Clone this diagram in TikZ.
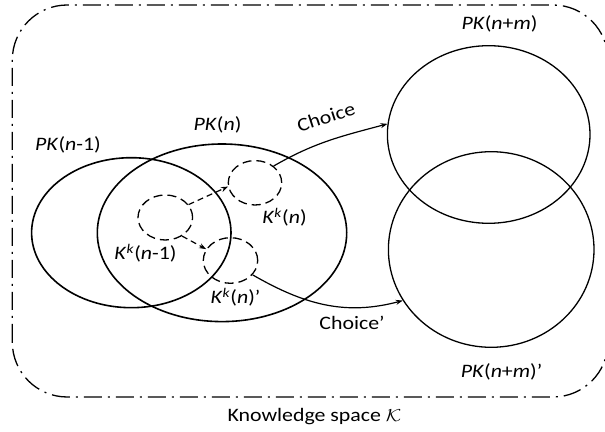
\documentclass[tikz,border=0pt]{standalone}
\usepackage{fontspec}
\setmainfont{Carlito}
\usetikzlibrary{shapes.geometric,arrows.meta}
\newcommand{\widen}[1]{\scalebox{1.15}[1]{#1}}

\begin{document}
\begin{tikzpicture}[x=1pt, y=1pt, >={Stealth[length=7pt,width=5pt]},
  set/.style={draw, ellipse, inner sep=0pt, line width=1.6pt},
  subset/.style={draw, ellipse, inner sep=0pt, line width=1.3pt, dash pattern=on 9pt off 5pt},
  lbl/.style={font=\fontsize{19}{22}\selectfont, inner sep=0pt}]
  \useasboundingbox (0,0) rectangle (605,431);
  \draw[line width=1.3pt, rounded corners=55pt, dash pattern=on 18pt off 6pt on 2pt off 6pt]
    (12.3,34) rectangle (608,426);
  \node[set, minimum width=199.4pt, minimum height=150pt] (pkA) at (131.3,198.3) {};
  \node[set, minimum width=249.4pt, minimum height=177.6pt] (pkB) at (222,198.2) {};
  \node[set, line width=1.3pt, minimum width=202.6pt, minimum height=177.6pt] (pkC) at (488.7,296.5) {};
  \node[set, line width=1.3pt, minimum width=205.6pt, minimum height=195.6pt] (pkD) at (491.2,181.5) {};
  \node[subset, minimum width=54.6pt, minimum height=45pt] (kA) at (165.3,213.5) {};
  \node[subset, minimum width=53.4pt, minimum height=44.4pt] (kB) at (255,248.2) {};
  \node[subset, minimum width=54.4pt, minimum height=45.6pt] (kC) at (230.5,170.5) {};
  \node[lbl] (tA) at (68,286) {\widen{\textit{PK}(\textit{n}-1)}};
  \node[lbl] (tB) at (217.5,306) {\widen{\textit{PK}(\textit{n})}};
  \node[lbl] (tC) at (499.5,407) {\widen{\textit{PK}(\textit{n}+\textit{m})}};
  \node[lbl] (tD) at (501.5,59) {\widen{\textit{PK}(\textit{n}+\textit{m})’}};
  \node[lbl] (tkA) at (145.5,177.5) {\widen{\textit{K}\textsuperscript{\textit{k}}(\textit{n}-1)}};
  \node[lbl] (tkB) at (284.5,213.5) {\widen{\textit{K}\textsuperscript{\textit{k}}(\textit{n})}};
  \node[lbl] (tkC) at (235.5,134) {\widen{\textit{K}\textsuperscript{\textit{k}}(\textit{n})’}};
  \node[lbl, rotate=18] (ch) at (326,314) {\widen{Choice}};
  \node[lbl] (chp) at (352,108.5) {\widen{Choice’}};
  \node[lbl] (space) at (314.5,14.5) {\widen{Knowledge space $\mathcal{K}$}};
  \draw[->, line width=1.2pt, dash pattern=on 6pt off 4pt] (kA.29) -- (kB.188);
  \draw[->, line width=1.2pt, dash pattern=on 6pt off 4pt] (kA.-48) -- (kC.155);
  \draw[->, line width=1.2pt] (kB.42) to[out=30, in=195] (pkC.174);
  \draw[->, line width=1.2pt] (kC.-33) to[out=-30, in=195] (pkD.210);
\end{tikzpicture}
\end{document}
